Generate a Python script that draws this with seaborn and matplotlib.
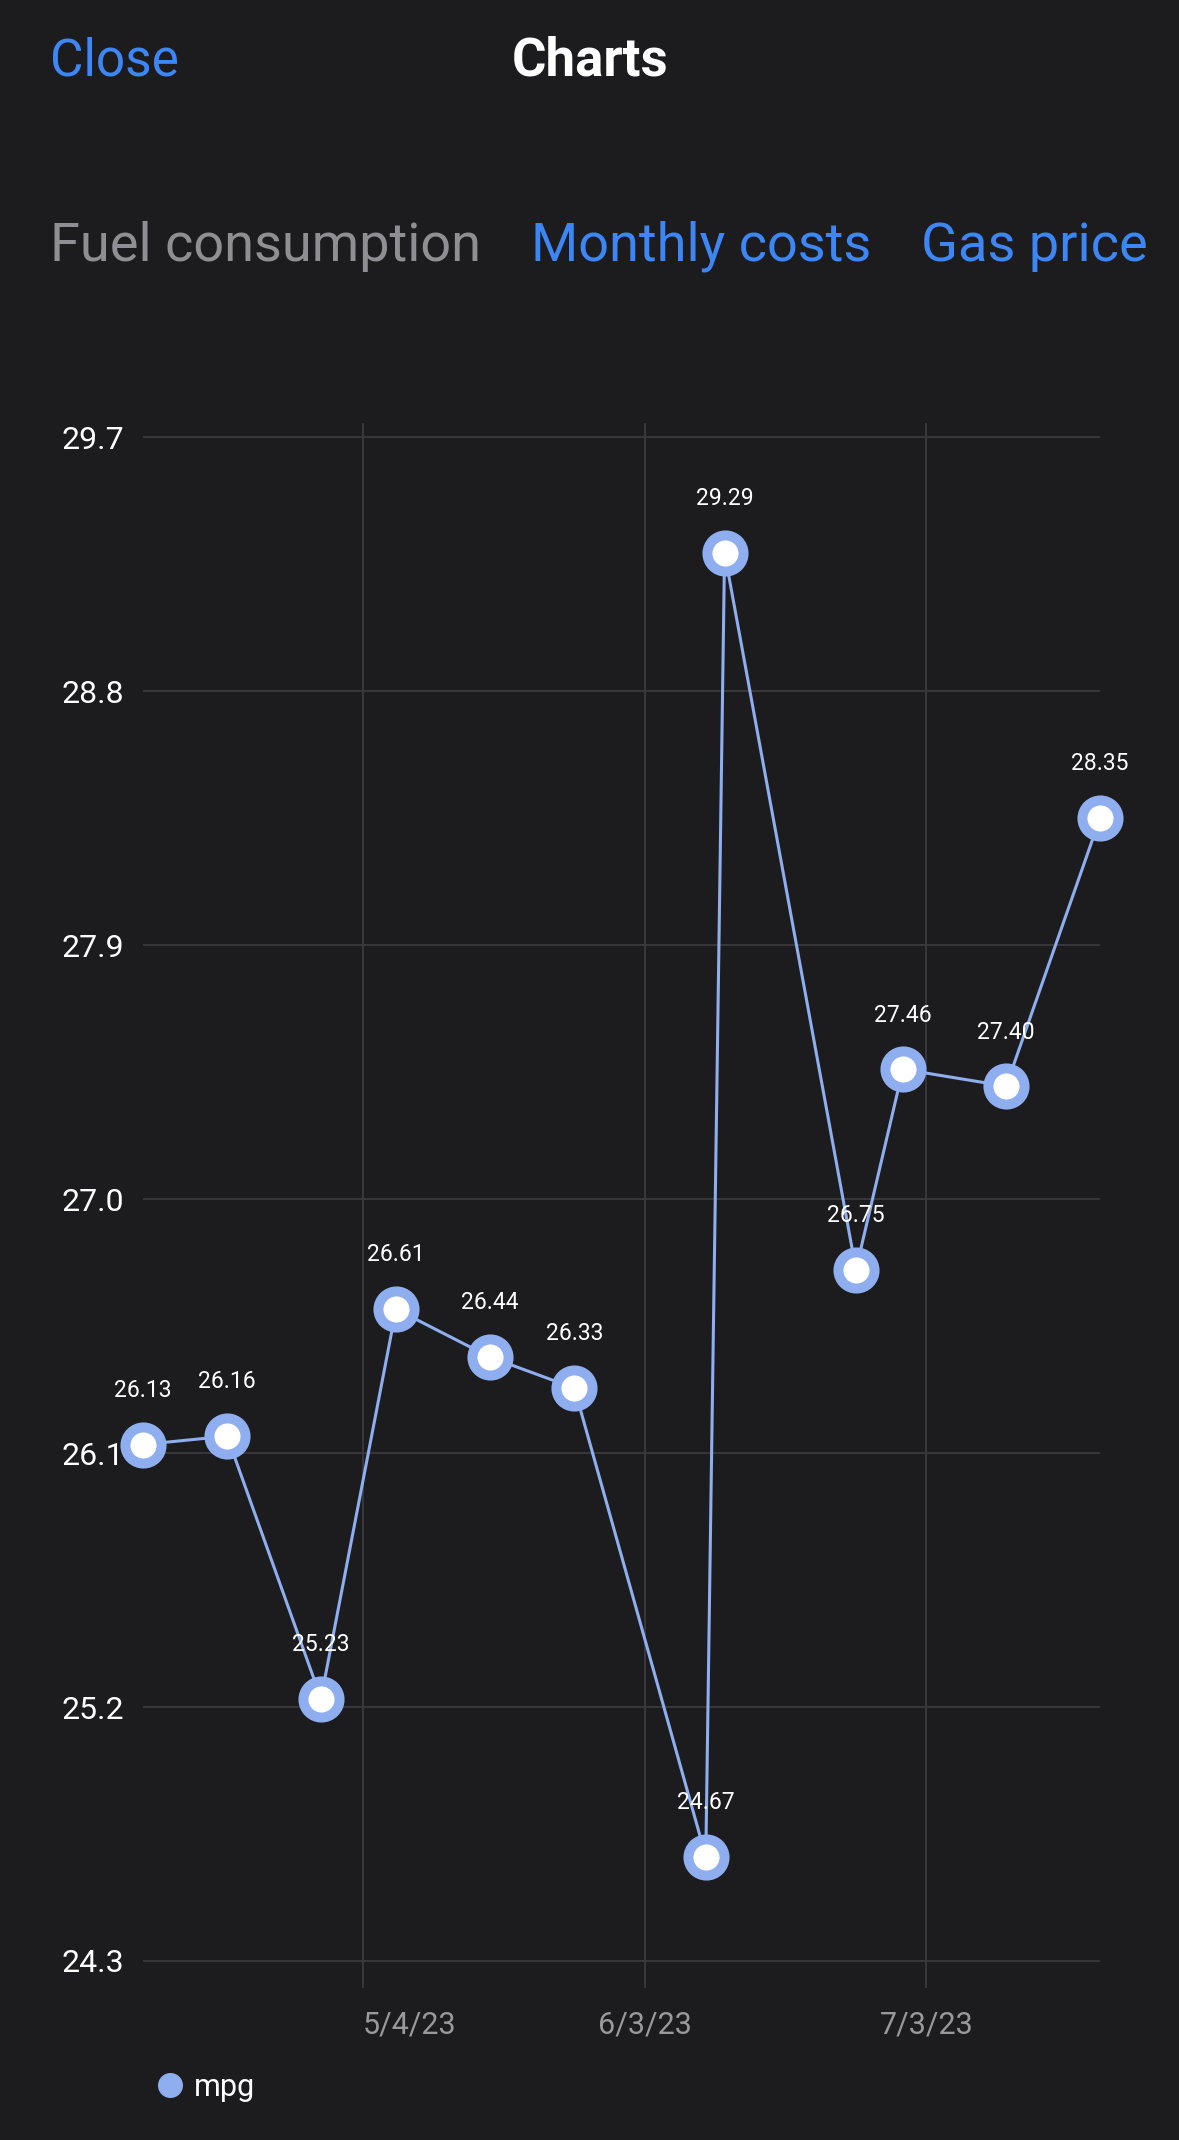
import matplotlib
matplotlib.use('Agg')
import matplotlib.pyplot as plt
from matplotlib.lines import Line2D
import pandas as pd
import seaborn as sns

# fill-up dates and mpg values
dates = ['2023-04-10 12:00', '2023-04-19 12:00', '2023-04-29 12:00', '2023-05-07 12:00',
         '2023-05-17 12:00', '2023-05-26 12:00', '2023-06-09 12:00', '2023-06-11 12:00',
         '2023-06-25 12:00', '2023-06-30 12:00', '2023-07-11 12:00', '2023-07-21 12:00']
mpg = [26.13, 26.16, 25.23, 26.61, 26.44, 26.33, 24.67, 29.29, 26.75, 27.46, 27.40, 28.35]

y_ticks = [24.3, 25.2, 26.1, 27.0, 27.9, 28.8, 29.7]
x_ticks = ['2023-05-04', '2023-06-03', '2023-07-03']
x_tick_labels = ['5/4/23', '6/3/23', '7/3/23']
tabs = ['Fuel consumption', 'Monthly costs', 'Gas price']

BG = '#1c1c1e'
BLUE = '#3c86f5'
LINE = '#8eaef0'
GRID = '#38383a'

sns.set_theme(style='dark')
plt.rcParams['font.family'] = ['Roboto', 'DejaVu Sans']

df = pd.DataFrame({'date': pd.to_datetime(dates), 'mpg': mpg})

fig = plt.figure(figsize=(11.79, 21.40), dpi=100, facecolor=BG)
ax = fig.add_axes([0.1210, 0.0710, 0.8120, 0.7313])
ax.set_facecolor(BG)

sns.lineplot(data=df, x='date', y='mpg', ax=ax, color=LINE, linewidth=2.2,
             marker='o', markersize=26, markerfacecolor='white',
             markeredgecolor=LINE, markeredgewidth=7.2, clip_on=False, zorder=3)

for d, v in zip(df['date'], df['mpg']):
    ax.annotate(f'{v:.2f}', (d, v), xytext=(0, 39), textcoords='offset points',
                ha='center', va='center', color='white', fontsize=16.5, zorder=4)

ax.set_xlim(df['date'].min(), df['date'].max())
ax.set_ylim(24.204, 29.75)
ax.set_yticks(y_ticks)
ax.set_yticklabels([f'{t:.1f}' for t in y_ticks])
ax.set_xticks(pd.to_datetime(x_ticks))
ax.set_xticklabels(x_tick_labels)
ax.tick_params(axis='y', colors='white', labelsize=23, length=0, pad=13)
ax.tick_params(axis='x', colors='#98989d', labelsize=22, length=0, pad=16)
ax.get_xticklabels()[0].set_horizontalalignment('left')
ax.grid(True, color=GRID, linewidth=1.4)
ax.set_xlabel('')
ax.set_ylabel('')
for s in ax.spines.values():
    s.set_visible(False)

# header
fig.text(50 / 1179, 1 - 61 / 2140, 'Close', color=BLUE, fontsize=37, ha='left', va='center')
fig.text(590 / 1179, 1 - 61 / 2140, 'Charts', color='white', fontsize=38,
         fontweight='bold', ha='center', va='center')
tab_x = [50, 531, 921]
tab_colors = ['#8e8e93', BLUE, BLUE]
for t, x, c in zip(tabs, tab_x, tab_colors):
    fig.text(x / 1179, 1 - 246 / 2140, t, color=c, fontsize=39, ha='left', va='center')

# legend
handle = Line2D([], [], marker='o', linestyle='', color=LINE, markersize=17)
leg = fig.legend([handle], ['mpg'], loc='center left', bbox_to_anchor=(127 / 1179, 1 - 2087 / 2140),
                 frameon=False, fontsize=22, handletextpad=0.3, handlelength=1.0)
for txt in leg.get_texts():
    txt.set_color('white')

fig.savefig('out.png', dpi=100, facecolor=BG)
